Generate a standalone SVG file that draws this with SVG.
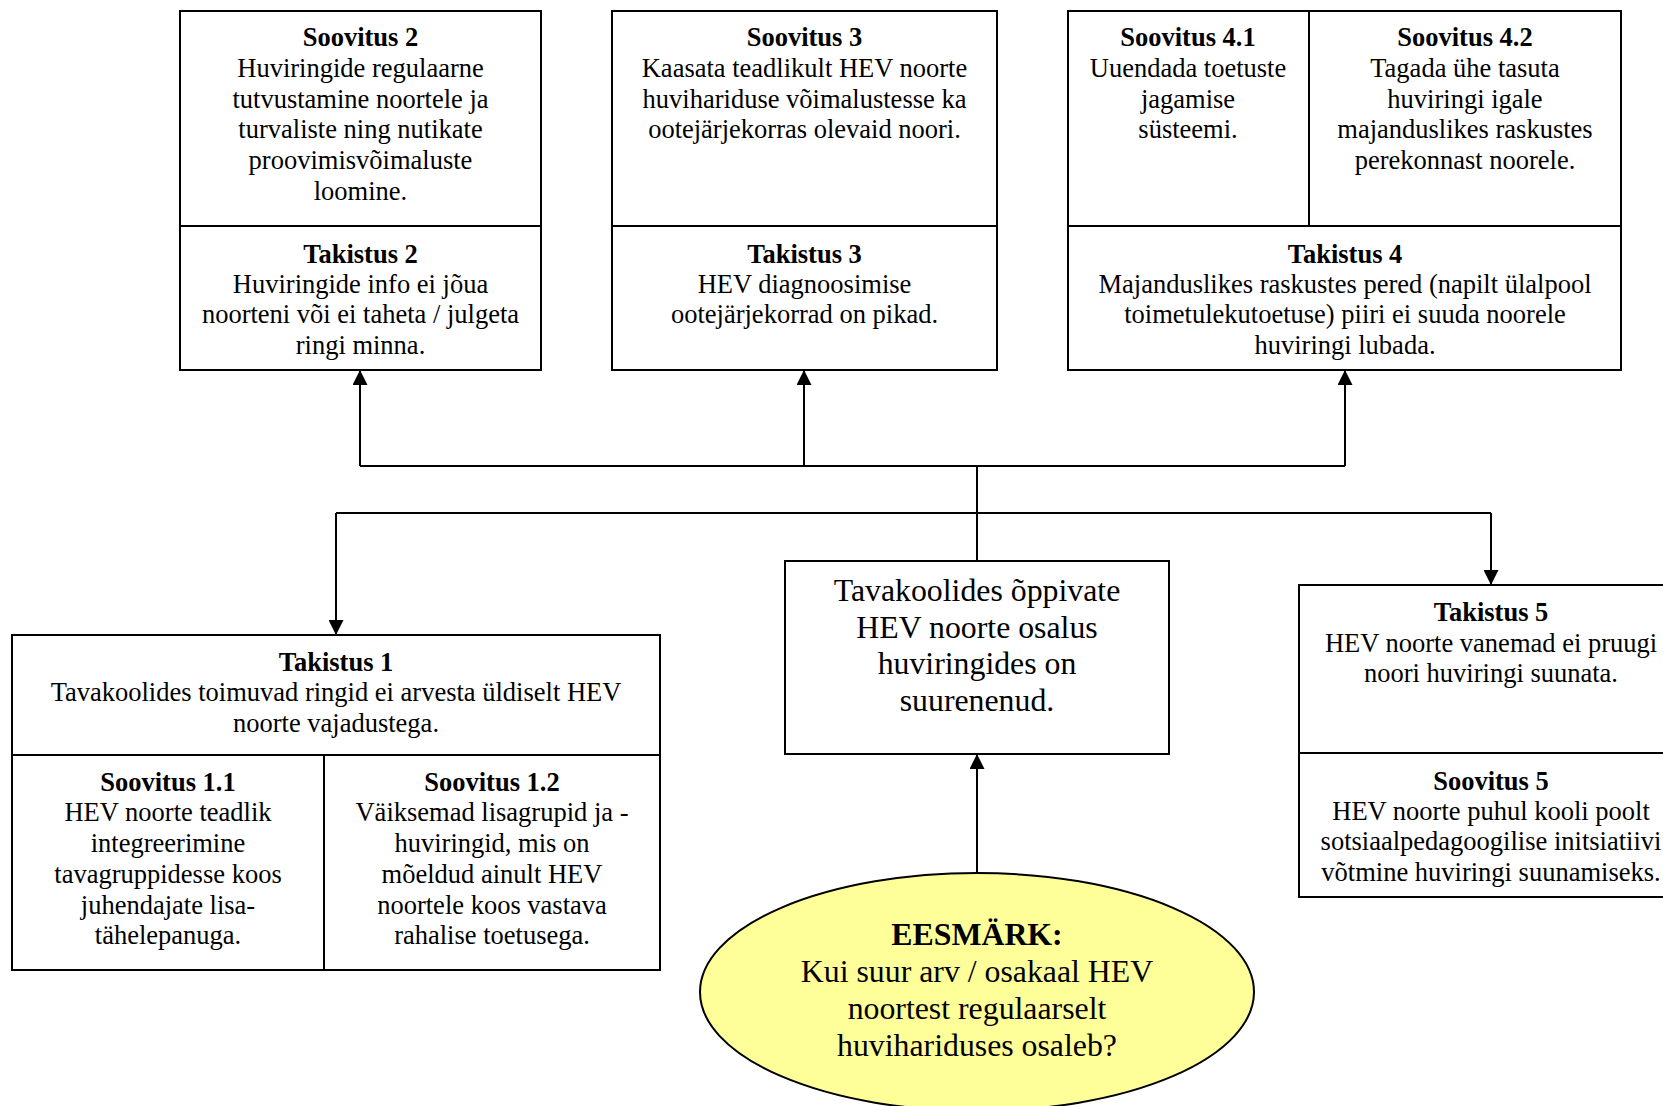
<svg xmlns="http://www.w3.org/2000/svg" width="1663" height="1106" viewBox="0 0 1663 1106">
<defs>
<style>
.box{fill:#fff;stroke:#000;stroke-width:2}
.div{stroke:#000;stroke-width:2;fill:none}
.t{font-family:"Liberation Serif","Times New Roman",serif;font-size:26.5px;text-anchor:middle;fill:#000}
.b{font-weight:bold}
.big{font-size:31.8px}
.conn{stroke:#000;stroke-width:2;fill:none}
</style>
<marker id="arr" viewBox="0 0 15 15" refX="15" refY="7.5" markerWidth="15" markerHeight="15" markerUnits="userSpaceOnUse" orient="auto">
<path d="M0,0 L15,7.5 L0,15 z" fill="#000"/>
</marker>
</defs>
<rect width="1663" height="1106" fill="#fff"/>

<g id="connectors">
<path class="conn" d="M360,466 H1345"/>
<path class="conn" d="M977,466 V561"/>
<path class="conn" d="M336,513 H1491"/>
<path class="conn" d="M360,466 V370" marker-end="url(#arr)"/>
<path class="conn" d="M804,466 V370" marker-end="url(#arr)"/>
<path class="conn" d="M1345,466 V370" marker-end="url(#arr)"/>
<path class="conn" d="M336,513 V635" marker-end="url(#arr)"/>
<path class="conn" d="M1491,513 V585" marker-end="url(#arr)"/>
<path class="conn" d="M977,873 V754" marker-end="url(#arr)"/>
</g>

<g id="node-soovitus2-takistus2">
<rect class="box" x="180" y="11" width="361" height="359"/>
<line class="div" x1="180" y1="226" x2="541" y2="226"/>
<text class="t b" x="360.5" y="45.5">Soovitus 2</text>
<text class="t" x="360.5" y="76.5">Huviringide regulaarne</text>
<text class="t" x="360.5" y="107.5">tutvustamine noortele ja</text>
<text class="t" x="360.5" y="137.5">turvaliste ning nutikate</text>
<text class="t" x="360.5" y="168.5">proovimisvõimaluste</text>
<text class="t" x="360.5" y="199.5">loomine.</text>
<text class="t b" x="360.5" y="262.5">Takistus 2</text>
<text class="t" x="360.5" y="292.5">Huviringide info ei jõua</text>
<text class="t" x="360.5" y="322.5">noorteni või ei taheta / julgeta</text>
<text class="t" x="360.5" y="353.5">ringi minna.</text>
</g>

<g id="node-soovitus3-takistus3">
<rect class="box" x="612" y="11" width="385" height="359"/>
<line class="div" x1="612" y1="226" x2="997" y2="226"/>
<text class="t b" x="804.5" y="45.5">Soovitus 3</text>
<text class="t" x="804.5" y="76.5">Kaasata teadlikult HEV noorte</text>
<text class="t" x="804.5" y="107.5">huvihariduse võimalustesse ka</text>
<text class="t" x="804.5" y="137.5">ootejärjekorras olevaid noori.</text>
<text class="t b" x="804.5" y="262.5">Takistus 3</text>
<text class="t" x="804.5" y="292.5">HEV diagnoosimise</text>
<text class="t" x="804.5" y="322.5">ootejärjekorrad on pikad.</text>
</g>

<g id="node-soovitus4-takistus4">
<rect class="box" x="1068" y="11" width="553" height="359"/>
<line class="div" x1="1068" y1="226" x2="1621" y2="226"/>
<line class="div" x1="1309" y1="11" x2="1309" y2="226"/>
<text class="t b" x="1188" y="45.5">Soovitus 4.1</text>
<text class="t" x="1188" y="76.5">Uuendada toetuste</text>
<text class="t" x="1188" y="107.5">jagamise</text>
<text class="t" x="1188" y="137.5">süsteemi.</text>
<text class="t b" x="1465" y="45.5">Soovitus 4.2</text>
<text class="t" x="1465" y="76.5">Tagada ühe tasuta</text>
<text class="t" x="1465" y="107.5">huviringi igale</text>
<text class="t" x="1465" y="137.5">majanduslikes raskustes</text>
<text class="t" x="1465" y="168.5">perekonnast noorele.</text>
<text class="t b" x="1345" y="262.5">Takistus 4</text>
<text class="t" x="1345" y="292.5">Majanduslikes raskustes pered (napilt ülalpool</text>
<text class="t" x="1345" y="322.5">toimetulekutoetuse) piiri ei suuda noorele</text>
<text class="t" x="1345" y="353.5">huviringi lubada.</text>
</g>

<g id="node-takistus1-soovitus1">
<rect class="box" x="12" y="635" width="648" height="335"/>
<line class="div" x1="12" y1="755" x2="660" y2="755"/>
<line class="div" x1="324" y1="755" x2="324" y2="970"/>
<text class="t b" x="336" y="670.5">Takistus 1</text>
<text class="t" x="336" y="700.5">Tavakoolides toimuvad ringid ei arvesta üldiselt HEV</text>
<text class="t" x="336" y="731.5">noorte vajadustega.</text>
<text class="t b" x="168" y="790.5">Soovitus 1.1</text>
<text class="t" x="168" y="820.5">HEV noorte teadlik</text>
<text class="t" x="168" y="851.5">integreerimine</text>
<text class="t" x="168" y="882.5">tavagruppidesse koos</text>
<text class="t" x="168" y="913.5">juhendajate lisa-</text>
<text class="t" x="168" y="943.5">tähelepanuga.</text>
<text class="t b" x="492" y="790.5">Soovitus 1.2</text>
<text class="t" x="492" y="820.5">Väiksemad lisagrupid ja -</text>
<text class="t" x="492" y="851.5">huviringid, mis on</text>
<text class="t" x="492" y="882.5">mõeldud ainult HEV</text>
<text class="t" x="492" y="913.5">noortele koos vastava</text>
<text class="t" x="492" y="943.5">rahalise toetusega.</text>
</g>

<g id="node-tulemus">
<rect class="box" x="785" y="561" width="384" height="193"/>
<text class="t big" x="977" y="601">Tavakoolides õppivate</text>
<text class="t big" x="977" y="638">HEV noorte osalus</text>
<text class="t big" x="977" y="674">huviringides on</text>
<text class="t big" x="977" y="711">suurenenud.</text>
</g>

<g id="node-takistus5-soovitus5">
<rect class="box" x="1299" y="585" width="400" height="312"/>
<line class="div" x1="1299" y1="753" x2="1699" y2="753"/>
<text class="t b" x="1491" y="620.5">Takistus 5</text>
<text class="t" x="1491" y="651.5">HEV noorte vanemad ei pruugi</text>
<text class="t" x="1491" y="681.5">noori huviringi suunata.</text>
<text class="t b" x="1491" y="789.5">Soovitus 5</text>
<text class="t" x="1491" y="819.5">HEV noorte puhul kooli poolt</text>
<text class="t" x="1491" y="849.5">sotsiaalpedagoogilise initsiatiivi</text>
<text class="t" x="1491" y="880.5">võtmine huviringi suunamiseks.</text>
</g>

<g id="node-eesmark">
<ellipse cx="977" cy="992" rx="277" ry="119" fill="#ffff99" stroke="#000" stroke-width="2"/>
<text class="t big b" x="977" y="945">EESMÄRK:</text>
<text class="t big" x="977" y="982">Kui suur arv / osakaal HEV</text>
<text class="t big" x="977" y="1019">noortest regulaarselt</text>
<text class="t big" x="977" y="1056">huvihariduses osaleb?</text>
</g>
</svg>
